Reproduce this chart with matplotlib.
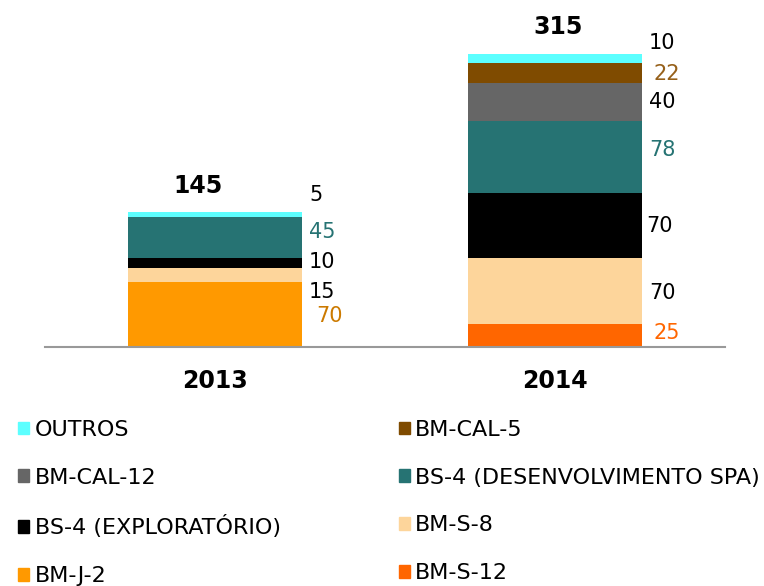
import matplotlib.pyplot as plt
from matplotlib.patches import Patch

anos = ['2013', '2014']

# series from bottom to top
series = ['BM-S-12', 'BM-J-2', 'BM-S-8', 'BS-4 (EXPLORATÓRIO)',
          'BS-4 (DESENVOLVIMENTO SPA)', 'BM-CAL-12', 'BM-CAL-5', 'OUTROS']
valores = {
    'BM-S-12': [0, 25],
    'BM-J-2': [70, 0],
    'BM-S-8': [15, 70],
    'BS-4 (EXPLORATÓRIO)': [10, 70],
    'BS-4 (DESENVOLVIMENTO SPA)': [45, 78],
    'BM-CAL-12': [0, 40],
    'BM-CAL-5': [0, 22],
    'OUTROS': [5, 10],
}
totais = [145, 315]

cores = {
    'BM-S-12': '#FF6600',
    'BM-J-2': '#FF9900',
    'BM-S-8': '#FDD59B',
    'BS-4 (EXPLORATÓRIO)': '#000000',
    'BS-4 (DESENVOLVIMENTO SPA)': '#267373',
    'BM-CAL-12': '#666666',
    'BM-CAL-5': '#7F4B00',
    'OUTROS': '#5CFFFF',
}
cores_rotulo = {
    'BM-S-12': '#FF6600',
    'BM-J-2': '#CC7A00',
    'BM-S-8': '#000000',
    'BS-4 (EXPLORATÓRIO)': '#000000',
    'BS-4 (DESENVOLVIMENTO SPA)': '#267373',
    'BM-CAL-12': '#000000',
    'BM-CAL-5': '#96601A',
    'OUTROS': '#000000',
}
# vertical nudges of the value labels (data units) so they don't overlap
ajuste = {
    0: {'BM-J-2': -2, 'BM-S-8': -18, 'BS-4 (EXPLORATÓRIO)': 1,
        'BS-4 (DESENVOLVIMENTO SPA)': 6, 'OUTROS': 21},
    1: {'BM-S-12': 2, 'BM-S-8': -2, 'BS-4 (EXPLORATÓRIO)': 0,
        'BS-4 (DESENVOLVIMENTO SPA)': 7, 'BM-CAL-12': 0, 'BM-CAL-5': -1,
        'OUTROS': 16},
}
ajuste_x = {0: {'BM-J-2': 5}, 1: {'BS-4 (EXPLORATÓRIO)': -2, 'BM-S-12': 3, 'BM-CAL-5': 3}}

fig = plt.figure(figsize=(7.64, 5.86), dpi=100)
ax = fig.add_axes([45 / 764, 1 - 347 / 586, 680 / 764, 327 / 586])

x = range(len(anos))
base = [0, 0]
largura = 0.512
for s in series:
    v = valores[s]
    ax.bar(x, v, largura, bottom=base, color=cores[s], linewidth=0)
    for i in x:
        if v[i] > 0:
            yc = base[i] + v[i] / 2 + ajuste[i].get(s, 0)
            ax.annotate(str(v[i]), (i + largura / 2, yc),
                        xytext=(5 + ajuste_x[i].get(s, 0), 0), textcoords='offset points',
                        ha='left', va='center', fontsize=15, color=cores_rotulo[s])
    base = [base[i] + v[i] for i in x]

for i in x:
    ax.annotate(str(totais[i]), (i, totais[i]), xytext=(-12 if i == 0 else 2, 19),
                textcoords='offset points', ha='center', va='center',
                fontsize=17, fontweight='bold')

ax.set_xlim(-0.5, 1.5)
ax.set_ylim(0, 351)
ax.set_xticks(list(x))
ax.set_xticklabels(anos, fontsize=17, fontweight='bold')
ax.tick_params(axis='x', length=0, pad=16)
ax.set_yticks([])
for lado in ['top', 'right', 'left']:
    ax.spines[lado].set_visible(False)
ax.spines['bottom'].set_color('#999999')
ax.spines['bottom'].set_linewidth(1.5)

ordem = ['OUTROS', 'BM-CAL-12', 'BS-4 (EXPLORATÓRIO)', 'BM-J-2',
         'BM-CAL-5', 'BS-4 (DESENVOLVIMENTO SPA)', 'BM-S-8', 'BM-S-12']
handles = [Patch(color=cores[s], label=s) for s in ordem]
fig.legend(handles=handles, ncol=2, loc='upper left', bbox_to_anchor=(0.012, 1 - 411 / 586),
           frameon=False, fontsize=16, handlelength=0.5, handleheight=0.5,
           handletextpad=0.25, labelspacing=1.25, columnspacing=5.3, borderaxespad=0)

fig.savefig('out.png', dpi=100)
